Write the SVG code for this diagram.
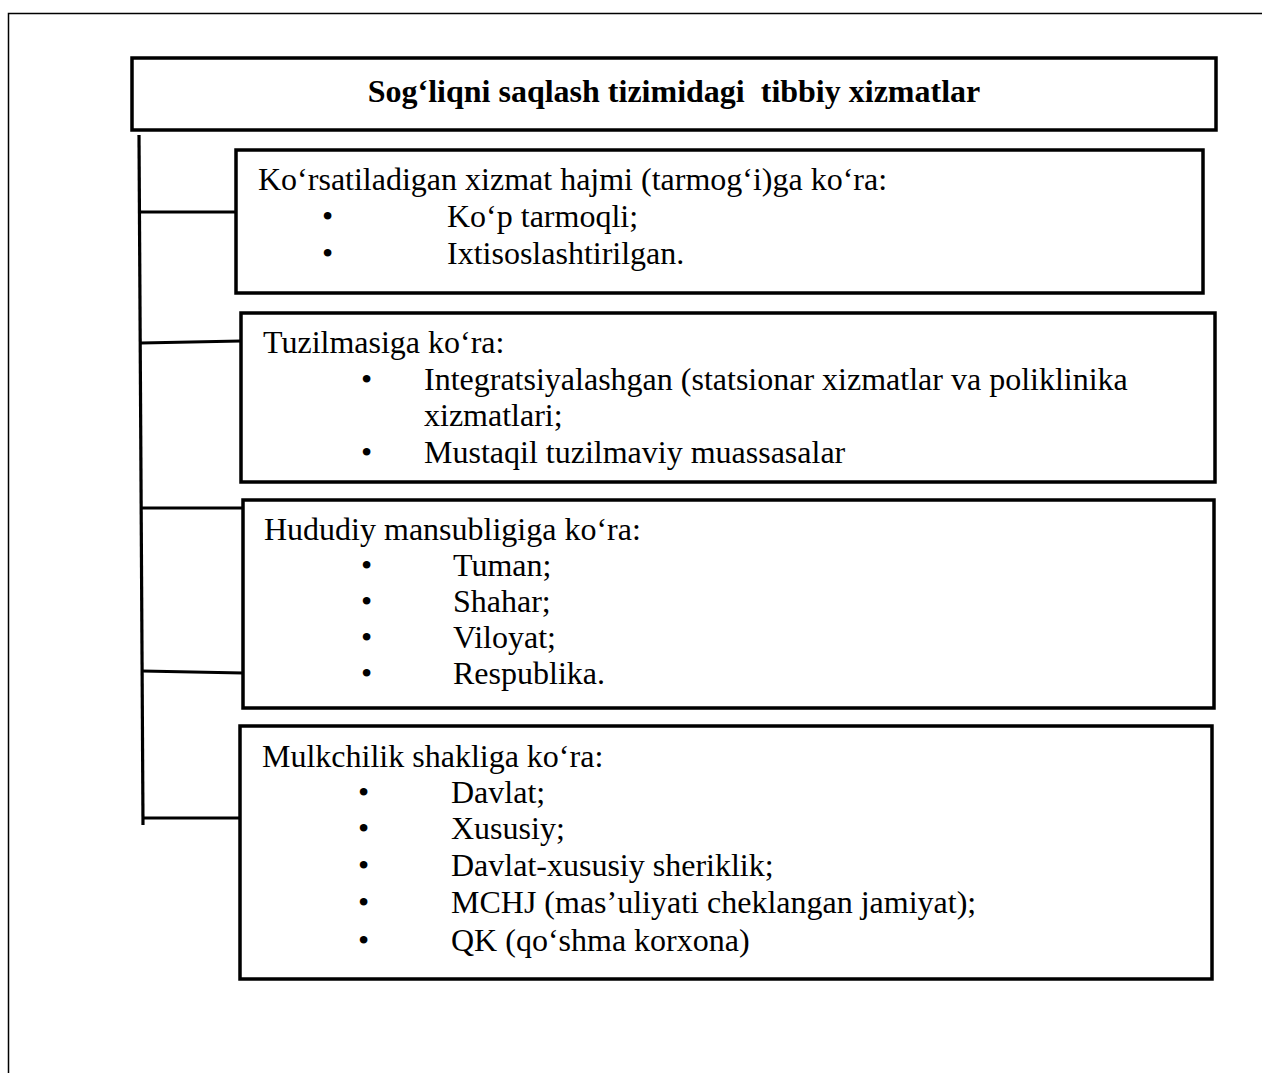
<svg xmlns="http://www.w3.org/2000/svg" width="1263" height="1073" viewBox="0 0 1263 1073">
<style>
.box{fill:#fff;stroke:#000;stroke-width:3.5}
.con{stroke:#000;stroke-width:3.2;fill:none}
.frame{stroke:#000;stroke-width:1.5;fill:none}
text{font-family:"Liberation Serif","Times New Roman",serif;font-size:32px;fill:#000}
.title{font-weight:bold;text-anchor:middle;white-space:pre}
</style>
<rect width="1263" height="1073" fill="#fff"/>
<path class="frame" d="M8.5,1073 V13.5 H1262"/>
<g id="connectors">
<line class="con" x1="139" y1="135" x2="143" y2="825"/>
<line class="con" x1="141" y1="212" x2="236" y2="212"/>
<line class="con" x1="141" y1="343" x2="241" y2="341"/>
<line class="con" x1="142" y1="508" x2="243" y2="508"/>
<line class="con" x1="142" y1="671" x2="243" y2="673"/>
<line class="con" x1="142" y1="818" x2="240" y2="818"/>
</g>
<g id="title">
<rect class="box" x="132" y="58" width="1084" height="72"/>
<text class="title" x="674" y="102" xml:space="preserve">Sog‘liqni saqlash tizimidagi  tibbiy xizmatlar</text>
</g>
<g id="box1">
<rect class="box" x="236" y="150" width="967" height="143"/>
<text x="258" y="190">Ko‘rsatiladigan xizmat hajmi (tarmog‘i)ga ko‘ra:</text>
<text x="322" y="227">•</text><text x="447" y="227">Ko‘p tarmoqli;</text>
<text x="322" y="264">•</text><text x="447" y="264">Ixtisoslashtirilgan.</text>
</g>
<g id="box2">
<rect class="box" x="241" y="313" width="974" height="169"/>
<text x="263" y="353">Tuzilmasiga ko‘ra:</text>
<text x="361" y="390">•</text><text x="424" y="390">Integratsiyalashgan (statsionar xizmatlar va poliklinika</text>
<text x="424" y="426">xizmatlari;</text>
<text x="361" y="463">•</text><text x="424" y="463">Mustaqil tuzilmaviy muassasalar</text>
</g>
<g id="box3">
<rect class="box" x="243" y="500" width="971" height="208"/>
<text x="264" y="540">Hududiy mansubligiga ko‘ra:</text>
<text x="361" y="576">•</text><text x="453" y="576">Tuman;</text>
<text x="361" y="612">•</text><text x="453" y="612">Shahar;</text>
<text x="361" y="648">•</text><text x="453" y="648">Viloyat;</text>
<text x="361" y="684">•</text><text x="453" y="684">Respublika.</text>
</g>
<g id="box4">
<rect class="box" x="240" y="726" width="972" height="253"/>
<text x="262" y="767">Mulkchilik shakliga ko‘ra:</text>
<text x="358" y="803">•</text><text x="451" y="803">Davlat;</text>
<text x="358" y="839">•</text><text x="451" y="839">Xususiy;</text>
<text x="358" y="876">•</text><text x="451" y="876">Davlat-xususiy sheriklik;</text>
<text x="358" y="913">•</text><text x="451" y="913">MCHJ (mas’uliyati cheklangan jamiyat);</text>
<text x="358" y="951">•</text><text x="451" y="951">QK (qo‘shma korxona)</text>
</g>
</svg>
